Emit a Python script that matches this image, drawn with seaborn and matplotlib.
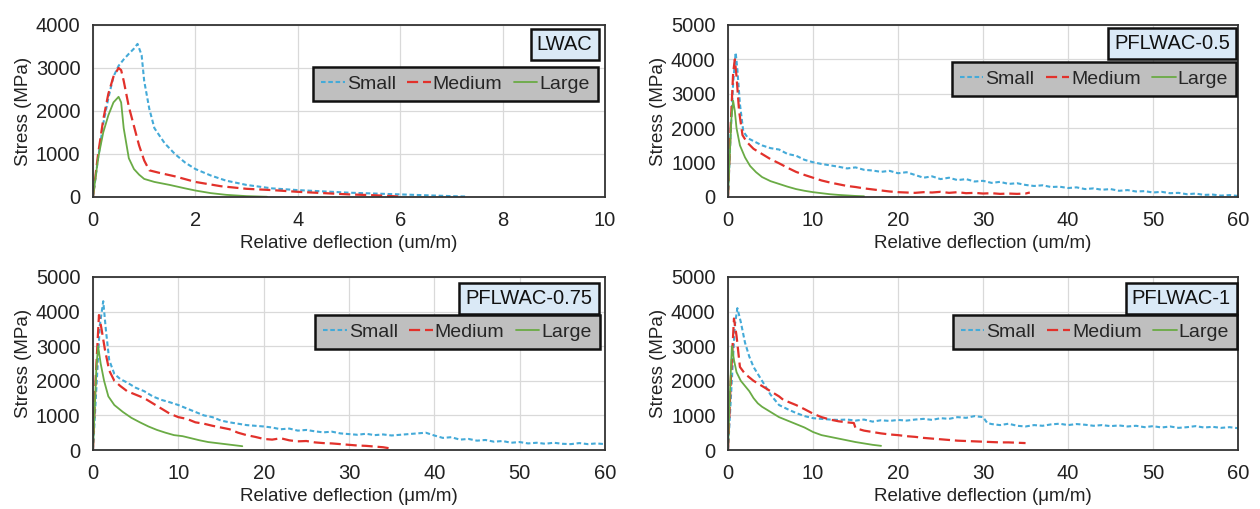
import numpy as np
import pandas as pd
import matplotlib
matplotlib.use("Agg")
import matplotlib.pyplot as plt
import seaborn as sns

# ---- LWAC (x 0-10) ----
lwac_small_x = [0, 0.1, 0.2, 0.3, 0.4, 0.5, 0.6, 0.7, 0.8, 0.87, 0.95, 1.0, 1.1, 1.2, 1.4, 1.6, 1.8, 2.0,
                2.3, 2.6, 3.0, 3.5, 4.0, 4.5, 5.0, 5.5, 6.0, 6.5, 7.0, 7.3]
lwac_small_y = [0, 900, 1700, 2300, 2800, 3050, 3200, 3330, 3450, 3560, 3300, 2700, 2050, 1600, 1250, 1000,
                800, 650, 500, 380, 280, 200, 160, 130, 100, 80, 60, 40, 20, 10]
lwac_medium_x = [0, 0.1, 0.2, 0.3, 0.4, 0.5, 0.55, 0.6, 0.7, 0.8, 0.9, 1.0, 1.1, 1.3, 1.6, 2.0, 2.5, 3.0,
                 3.5, 4.0, 4.5, 5.0, 5.5, 6.0]
lwac_medium_y = [0, 1000, 1800, 2400, 2800, 3000, 2950, 2700, 2100, 1650, 1200, 850, 620, 560, 480, 350,
                 250, 190, 160, 120, 90, 60, 40, 10]
lwac_large_x = [0, 0.1, 0.2, 0.3, 0.4, 0.5, 0.55, 0.6, 0.7, 0.8, 0.9, 1.0, 1.2, 1.5, 1.8, 2.0, 2.3, 2.6,
                3.0, 3.4]
lwac_large_y = [0, 900, 1500, 1900, 2200, 2330, 2200, 1600, 900, 650, 520, 420, 350, 280, 200, 150, 90, 50,
                20, 5]

# ---- PFLWAC-0.5 ----
p05_small_x = [0, 0.3, 0.6, 0.9, 1.1, 1.4, 1.8, 2.4, 3.2,
               4, 5, 6, 7, 8, 9, 10, 11, 12, 13, 14, 15, 16, 17, 18, 19, 20, 21, 22, 23, 24, 25, 26, 27,
               28, 29, 30, 31, 32, 33, 34, 35, 36, 37, 38, 39, 40, 41, 42, 43, 44, 45, 46, 47, 48, 49,
               50, 51, 52, 53, 54, 55, 56, 57, 58, 59, 60]
p05_small_y = [0, 1800, 3300, 4200, 3700, 2700, 1900, 1700, 1600,
               1500, 1420, 1380, 1250, 1200, 1080, 1010, 960, 920, 880, 830, 860, 790, 770, 730, 760, 690,
               720, 640, 560, 600, 520, 560, 490, 520, 450, 470, 410, 440, 380, 400, 350, 320, 340, 290,
               300, 260, 280, 230, 250, 210, 230, 180, 200, 160, 170, 130, 150, 110, 120, 80, 100, 60,
               70, 40, 55, 30]
p05_medium_x = [0, 0.3, 0.6, 0.8, 1.0, 1.3, 1.7, 2.2, 3,
                4, 5, 6, 7, 8, 9, 10, 11, 12, 13, 14, 15, 16, 17, 18, 19, 20, 21, 22, 23, 24, 25, 26,
                27, 28, 29, 30, 31, 32, 33, 34, 35, 35.5]
p05_medium_y = [0, 2000, 3600, 4000, 3500, 2500, 1800, 1600, 1400,
                1250, 1100, 980, 850, 730, 640, 560, 480, 420, 370, 320, 290, 250, 220, 190, 160, 140,
                130, 120, 140, 130, 150, 120, 140, 110, 120, 100, 110, 90, 100, 90, 100, 130]
p05_large_x = [0, 0.2, 0.4, 0.6, 0.8, 1.0, 1.4, 2, 2.6, 3.3, 4, 5, 6, 7, 8, 9, 10, 11, 12, 13, 14, 15, 16]
p05_large_y = [0, 1200, 2300, 2800, 2500, 2000, 1500, 1150, 900, 720, 580, 460, 380, 300, 230, 180, 140,
               110, 80, 60, 45, 30, 20]

# ---- PFLWAC-0.75 ----
p075_small_x = [0, 0.4, 0.8, 1.2, 1.5, 1.9, 2.5, 3.2,
                4, 5, 6, 7, 8, 9, 10, 11, 12, 13, 14, 15, 16, 17, 18, 19, 20, 21, 22, 23, 24, 25, 26,
                27, 28, 29, 30, 31, 32, 33, 34, 35, 36, 37, 38, 39, 40, 41, 42, 43, 44, 45, 46, 47, 48,
                49, 50, 51, 52, 53, 54, 55, 56, 57, 58, 59, 60]
p075_small_y = [0, 1800, 3600, 4300, 3500, 2600, 2200, 2050,
                1950, 1800, 1700, 1550, 1450, 1380, 1300, 1200,
                1100, 1000, 950, 850, 800, 760, 720, 700, 680, 650, 600, 620, 560, 580, 540, 510, 530,
                480, 460, 440, 470, 430, 450, 420, 440, 460, 480, 500, 420, 350, 370, 300, 320, 270,
                290, 240, 260, 210, 230, 190, 210, 180, 210, 180, 170, 200, 170, 190, 170]
p075_medium_x = [0, 0.3, 0.7, 1.0, 1.4, 1.9, 2.5, 3.2,
                 4, 5, 6, 7, 8, 9, 10, 11, 12, 13, 14, 15, 16, 17, 18, 19, 20, 21, 22, 23, 24, 25, 26,
                 27, 28, 29, 30, 31, 32, 33, 34, 35]
p075_medium_y = [0, 2000, 3900, 3500, 2900, 2300, 2000, 1850,
                 1700, 1600, 1500, 1350, 1200, 1050, 950, 900, 800, 760, 700, 650, 600, 500, 430, 380,
                 320, 300, 340, 280, 250, 260, 220, 200, 190, 170, 150, 130, 120, 100, 80, 40]
p075_large_x = [0, 0.2, 0.4, 0.6, 0.9, 1.3, 1.8, 2.5, 3.5, 4.5, 5.5, 6.5, 7.5, 8.5, 9.5, 10.5, 11.5,
                12.5, 13.5, 14.5, 15.5, 16.5, 17.5]
p075_large_y = [0, 1200, 2400, 3000, 2500, 2000, 1550, 1300, 1100, 930, 800, 680, 580, 500, 430, 400,
                340, 280, 230, 200, 170, 140, 110]

# ---- PFLWAC-1 ----
p1_small_x = [0, 0.4, 0.8, 1.1, 1.5, 2, 2.5, 3, 3.5, 4,
              5, 6, 7, 8, 9, 10, 11, 12, 13, 14, 15, 16, 17, 18, 19, 20, 21, 22, 23, 24, 25, 26, 27,
              28, 29, 30, 30.5,
              31, 32, 33, 34, 35, 36, 37, 38, 39, 40, 41, 42, 43, 44, 45, 46, 47, 48, 49, 50, 51, 52,
              53, 54, 55, 56, 57, 58, 59, 60]
p1_small_y = [0, 1800, 3600, 4100, 3700, 3100, 2700, 2400, 2200, 2000,
              1600, 1300, 1180, 1070, 980, 920, 900, 880, 870, 880, 850, 880, 820, 860, 840, 870, 850,
              880, 900, 870, 920, 900, 950, 930, 980, 950, 780,
              750, 720, 760, 700, 680, 720, 700, 740, 760, 720, 750, 730, 700, 720, 690, 710, 680, 700,
              660, 690, 650, 680, 640, 660, 690, 650, 670, 640, 660, 630]
p1_medium_x = [0, 0.3, 0.7, 1.0, 1.4, 2, 3, 4, 5, 6, 6.5, 7,
               8, 9, 10, 11, 12, 13, 14, 14.8, 15,
               16, 17, 18, 19, 20, 21, 22, 23, 24, 25, 26, 27, 28, 29, 30, 31, 32, 33, 34, 35]
p1_medium_y = [0, 1900, 3800, 3300, 2400, 2200, 2000, 1850, 1700, 1550, 1450, 1400,
               1300, 1180, 1050, 950, 880, 830, 800, 780, 630,
               560, 520, 480, 450, 430, 400, 380, 350, 330, 310, 290, 270, 260, 250, 240, 230, 220,
               220, 210, 200]
p1_large_x = [0, 0.2, 0.45, 0.7, 1.0, 1.5, 2, 2.5, 3, 3.5, 4, 5, 6, 7, 8, 9, 10, 11, 12, 13, 14, 15,
              16, 17, 18]
p1_large_y = [0, 1500, 3000, 2600, 2250, 2000, 1850, 1700, 1500, 1350, 1250, 1100, 950, 850, 750, 650,
              520, 430, 380, 330, 280, 230, 190, 150, 120]

sizes = ["Small", "Medium", "Large"]
colors = {"Small": "#44aad8", "Medium": "#e2312b", "Large": "#6aab45"}
dashes = {"Small": (0, (2.2, 1.3)), "Medium": (0, (5, 2.2)), "Large": "-"}
widths = {"Small": 1.5, "Medium": 1.6, "Large": 1.3}

sns.set_theme(style="whitegrid")
plt.rcParams["font.family"] = ["Liberation Sans", "DejaVu Sans"]

fig = plt.figure(figsize=(12.6, 5.09), dpi=100)

panels = [
    dict(name="LWAC", rect=[0.0738, 0.6130, 0.4063, 0.3379], xmax=10, xstep=2, ymax=4000,
         unit="um/m", data=[(lwac_small_x, lwac_small_y), (lwac_medium_x, lwac_medium_y),
                            (lwac_large_x, lwac_large_y)],
         leg=(0.986, 0.756), box=(0.988, 0.977)),
    dict(name="PFLWAC-0.5", rect=[0.5778, 0.6130, 0.4048, 0.3379], xmax=60, xstep=10, ymax=5000,
         unit="um/m", data=[(p05_small_x, p05_small_y), (p05_medium_x, p05_medium_y),
                            (p05_large_x, p05_large_y)],
         leg=(0.996, 0.785), box=(0.996, 0.983)),
    dict(name="PFLWAC-0.75", rect=[0.0738, 0.1159, 0.4063, 0.3399], xmax=60, xstep=10, ymax=5000,
         unit="\u03bcm/m", data=[(p075_small_x, p075_small_y), (p075_medium_x, p075_medium_y),
                                 (p075_large_x, p075_large_y)],
         leg=(0.990, 0.780), box=(0.988, 0.965)),
    dict(name="PFLWAC-1", rect=[0.5778, 0.1159, 0.4048, 0.3399], xmax=60, xstep=10, ymax=5000,
         unit="\u03bcm/m", data=[(p1_small_x, p1_small_y), (p1_medium_x, p1_medium_y),
                                 (p1_large_x, p1_large_y)],
         leg=(0.998, 0.780), box=(0.998, 0.965)),
]

for p in panels:
    ax = fig.add_axes(p["rect"])
    for size, (xs, ys) in zip(sizes, p["data"]):
        df = pd.DataFrame({"x": xs, "y": ys})
        sns.lineplot(data=df, x="x", y="y", ax=ax, sort=False, estimator=None,
                     color=colors[size], linestyle=dashes[size], linewidth=widths[size], label=size)

    ax.set_xlim(0, p["xmax"])
    ax.set_ylim(0, p["ymax"])
    ax.set_xticks(np.arange(0, p["xmax"] + 0.1, p["xstep"]))
    ax.set_yticks(np.arange(0, p["ymax"] + 1, 1000))
    ax.set_facecolor("white")
    ax.grid(True, color="#d9d9d9", linewidth=0.9)
    for s in ax.spines.values():
        s.set_color("#333333")
        s.set_linewidth(1.3)
    ax.tick_params(axis="both", length=0, labelsize=14.5, colors="#222222")
    ax.tick_params(axis="x", pad=10)
    ax.tick_params(axis="y", pad=9)
    ax.set_xlabel(f"Relative deflection ({p['unit']})", fontsize=13.5, color="#222222", labelpad=4)
    ax.set_ylabel("Stress (MPa)", fontsize=13.5, color="#222222", labelpad=3)

    leg = ax.legend(loc="upper right", bbox_to_anchor=p["leg"], ncol=3, fontsize=14,
                    frameon=True, fancybox=False, framealpha=1, borderaxespad=0,
                    handlelength=1.2, handletextpad=0.1, columnspacing=0.6, borderpad=0.42)
    frame = leg.get_frame()
    frame.set_facecolor("#bfbfbf")
    frame.set_edgecolor("#111111")
    frame.set_linewidth(1.8)

    ax.annotate(p["name"], xy=p["box"], xycoords="axes fraction", xytext=(-4.5, -4.5),
                textcoords="offset points", ha="right", va="top", fontsize=14.5, color="#111111",
                bbox=dict(boxstyle="square,pad=0.3", fc="#dae9f6", ec="#111111", lw=1.8), zorder=5)

fig.savefig("out.png", dpi=100)
